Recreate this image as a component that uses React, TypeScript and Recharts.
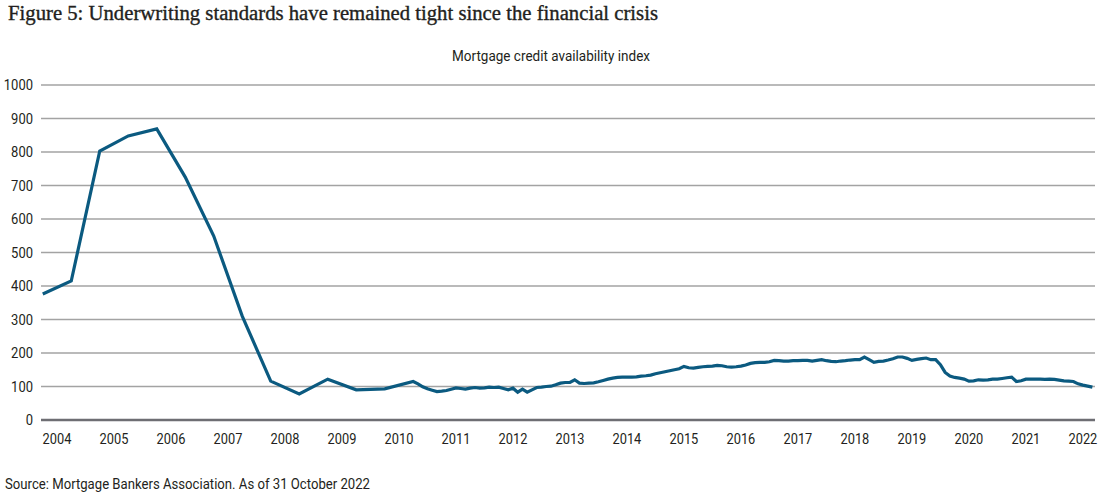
import React from 'react';
import { LineChart, Line, XAxis, YAxis, CartesianGrid, ReferenceLine } from 'recharts';

// Semi-annual observations (early history)
const semiAnnualDates = [
  '2004-04', '2004-10', '2005-04', '2005-10', '2006-04', '2006-10', '2007-04',
  '2007-10', '2008-04', '2008-10', '2009-04', '2009-10', '2010-04', '2010-10',
];
const semiAnnualValues = [376, 415, 803, 848, 869, 725, 549, 310, 116, 78, 122, 90, 93, 115];

// Monthly observations from Nov 2010 to Sep 2022
const monthlyStart = '2010-11';
const monthlyValues = [
  108, 99,
  93, 89, 85, 86, 88, 92, 96, 94, 92, 95, 97, 95,
  96, 98, 97, 98, 94, 90, 95, 83, 92, 83, 90, 97,
  98, 100, 101, 105, 110, 112, 112, 120, 110, 109, 110, 111,
  114, 118, 122, 125, 127, 128, 128, 128, 129, 131, 132, 134,
  138, 141, 144, 147, 150, 153, 160, 156, 155, 157, 159, 160,
  161, 163, 162, 159, 158, 159, 161, 164, 169, 171, 172, 172,
  174, 178, 177, 176, 176, 177, 177, 178, 178, 176, 178, 180,
  177, 175, 174, 176, 177, 179, 180, 180, 188, 180, 172, 175,
  176, 179, 183, 188, 188, 184, 178, 181, 183, 185, 180, 180,
  165, 142, 131, 127, 125, 122, 116, 117, 120, 119, 120, 122,
  122, 124, 126, 128, 115, 117, 122, 122, 122, 122, 121, 122,
  121, 119, 117, 116, 115, 108, 104, 101, 98,
];

const yTicks = [0, 100, 200, 300, 400, 500, 600, 700, 800, 900, 1000];
const yearLabels = [
  2004, 2005, 2006, 2007, 2008, 2009, 2010, 2011, 2012, 2013,
  2014, 2015, 2016, 2017, 2018, 2019, 2020, 2021, 2022,
];

const toIndex = (d: string) => {
  const [y, m] = d.split('-').map(Number);
  return (y - 2004) * 12 + (m - 1);
};

const data: { t: number; v: number }[] = [];
semiAnnualDates.forEach((d, i) => data.push({ t: toIndex(d), v: semiAnnualValues[i] }));
const startIdx = toIndex(monthlyStart);
monthlyValues.forEach((v, i) => data.push({ t: startIdx + i, v }));

const xTicks = yearLabels.map((y) => toIndex(`${y}-07`));
const labelForTick = (t: number) => String(yearLabels[xTicks.indexOf(t)] ?? '');

const TEXT = '#231f20';
const SANS = 'Roboto, "Noto Sans", sans-serif';

const XTick = (props: any) => {
  const { x, y, payload } = props;
  const label = labelForTick(payload.value);
  return (
    <text
      x={x}
      y={y}
      dy={16}
      textAnchor="middle"
      fontFamily={SANS}
      fontSize={15}
      fill={TEXT}
      textLength={label.length * 7.2}
      lengthAdjust="spacingAndGlyphs"
    >
      {label}
    </text>
  );
};

const YTick = (props: any) => {
  const { x, y, payload } = props;
  const label = String(payload.value);
  return (
    <text
      x={x}
      y={y}
      dy={5}
      textAnchor="end"
      fontFamily={SANS}
      fontSize={15}
      fill={TEXT}
      textLength={label.length * 7.3}
      lengthAdjust="spacingAndGlyphs"
    >
      {label}
    </text>
  );
};

export default function App() {
  return (
    <div style={{ position: 'absolute', left: 0, top: 0, width: 1100, height: 498, background: '#fff' }}>
      <LineChart
        width={1100}
        height={498}
        data={data}
        margin={{ top: 85, right: 5, bottom: 48, left: 0 }}
      >
        <CartesianGrid horizontal vertical={false} stroke="#a3a3a3" strokeWidth={1.3} />
        <XAxis
          dataKey="t"
          type="number"
          domain={[2.63, 224.55]}
          ticks={xTicks}
          interval={0}
          axisLine={false}
          tickLine={false}
          height={30}
          tick={<XTick />}
          allowDataOverflow
        />
        <YAxis
          type="number"
          domain={[0, 1000]}
          ticks={yTicks}
          interval={0}
          axisLine={false}
          tickLine={false}
          width={41}
          tick={<YTick />}
        />
        <ReferenceLine y={0} stroke="#6e6e73" strokeWidth={2.5} />
        <Line
          type="linear"
          dataKey="v"
          stroke="#0b5a80"
          strokeWidth={3.2}
          dot={false}
          isAnimationActive={false}
        />
      </LineChart>
      <svg
        width={1100}
        height={498}
        style={{ position: 'absolute', left: 0, top: 0, pointerEvents: 'none' }}
      >
        <text
          x={8}
          y={20}
          fontFamily='"Liberation Serif", "DejaVu Serif", serif'
          fontSize={20}
          fill={TEXT}
          stroke={TEXT}
          strokeWidth={0.35}
          textLength={650}
          lengthAdjust="spacingAndGlyphs"
        >
          Figure 5: Underwriting standards have remained tight since the financial crisis
        </text>
        <text
          x={551}
          y={61}
          textAnchor="middle"
          fontFamily={SANS}
          fontSize={15}
          fill={TEXT}
          textLength={198}
          lengthAdjust="spacingAndGlyphs"
        >
          Mortgage credit availability index
        </text>
        <text
          x={5}
          y={489}
          fontFamily={SANS}
          fontSize={15}
          fill={TEXT}
          textLength={365}
          lengthAdjust="spacingAndGlyphs"
        >
          Source: Mortgage Bankers Association. As of 31 October 2022
        </text>
      </svg>
    </div>
  );
}
